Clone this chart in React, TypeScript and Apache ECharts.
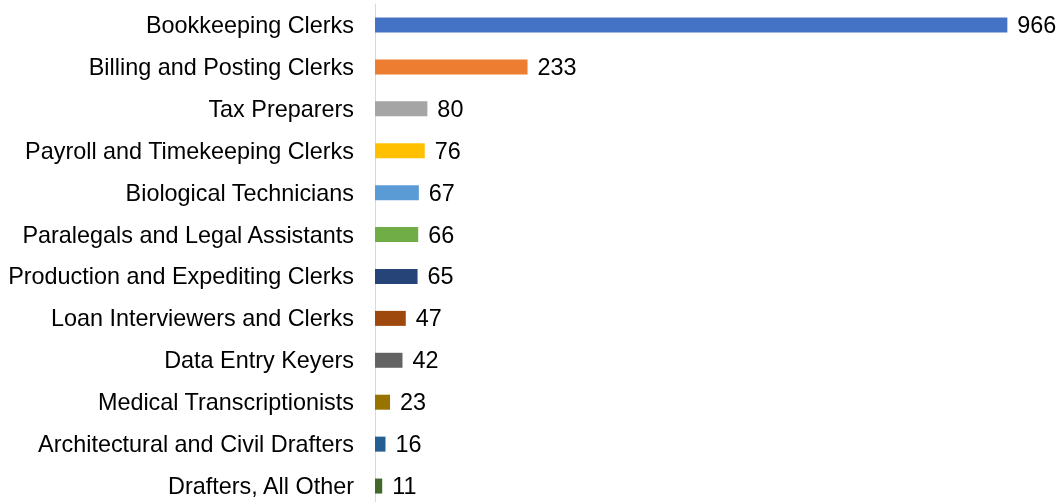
import React, { useEffect, useRef } from "react";
import * as echarts from "echarts";

const categories = [
  "Bookkeeping Clerks",
  "Billing and Posting Clerks",
  "Tax Preparers",
  "Payroll and Timekeeping Clerks",
  "Biological Technicians",
  "Paralegals and Legal Assistants",
  "Production and Expediting Clerks",
  "Loan Interviewers and Clerks",
  "Data Entry Keyers",
  "Medical Transcriptionists",
  "Architectural and Civil Drafters",
  "Drafters, All Other",
];
const values = [966, 233, 80, 76, 67, 66, 65, 47, 42, 23, 16, 11];
const colors = [
  "#4472C4", "#ED7D31", "#A5A5A5", "#FFC000", "#5B9BD5", "#70AD47",
  "#264478", "#9E480E", "#636363", "#997300", "#255E91", "#43682B",
];

const FONT = "Liberation Sans";
const FS = 23.4;

export default function App() {
  const ref = useRef<HTMLDivElement>(null);
  useEffect(() => {
    if (!ref.current) return;
    const chart = echarts.init(ref.current, undefined, { renderer: "svg" });
    chart.setOption({
      animation: false,
      grid: {
        left: 375,
        right: 27.4,
        top: 4,
        bottom: -5,
        containLabel: false,
        outerBoundsMode: "none",
      },
      xAxis: {
        type: "value",
        min: 0,
        max: 1000,
        show: false,
      },
      yAxis: {
        type: "category",
        data: categories,
        inverse: true,
        axisLine: { show: true, lineStyle: { color: "#D9D9D9", width: 1 } },
        axisTick: { show: false },
        splitLine: { show: false },
        axisLabel: {
          margin: 21,
          fontSize: FS,
          fontFamily: FONT,
          color: "#000",
        },
      },
      series: [
        {
          type: "bar",
          data: values.map((v, i) => ({ value: v, itemStyle: { color: colors[i] } })),
          barWidth: 15,
          label: {
            show: true,
            position: "right",
            distance: 10,
            fontSize: FS,
            fontFamily: FONT,
            color: "#000",
          },
        },
      ],
    });
    return () => chart.dispose();
  }, []);
  return (
    <div
      ref={ref}
      style={{ position: "fixed", left: 0, top: 0, width: 1057, height: 502 }}
    />
  );
}
